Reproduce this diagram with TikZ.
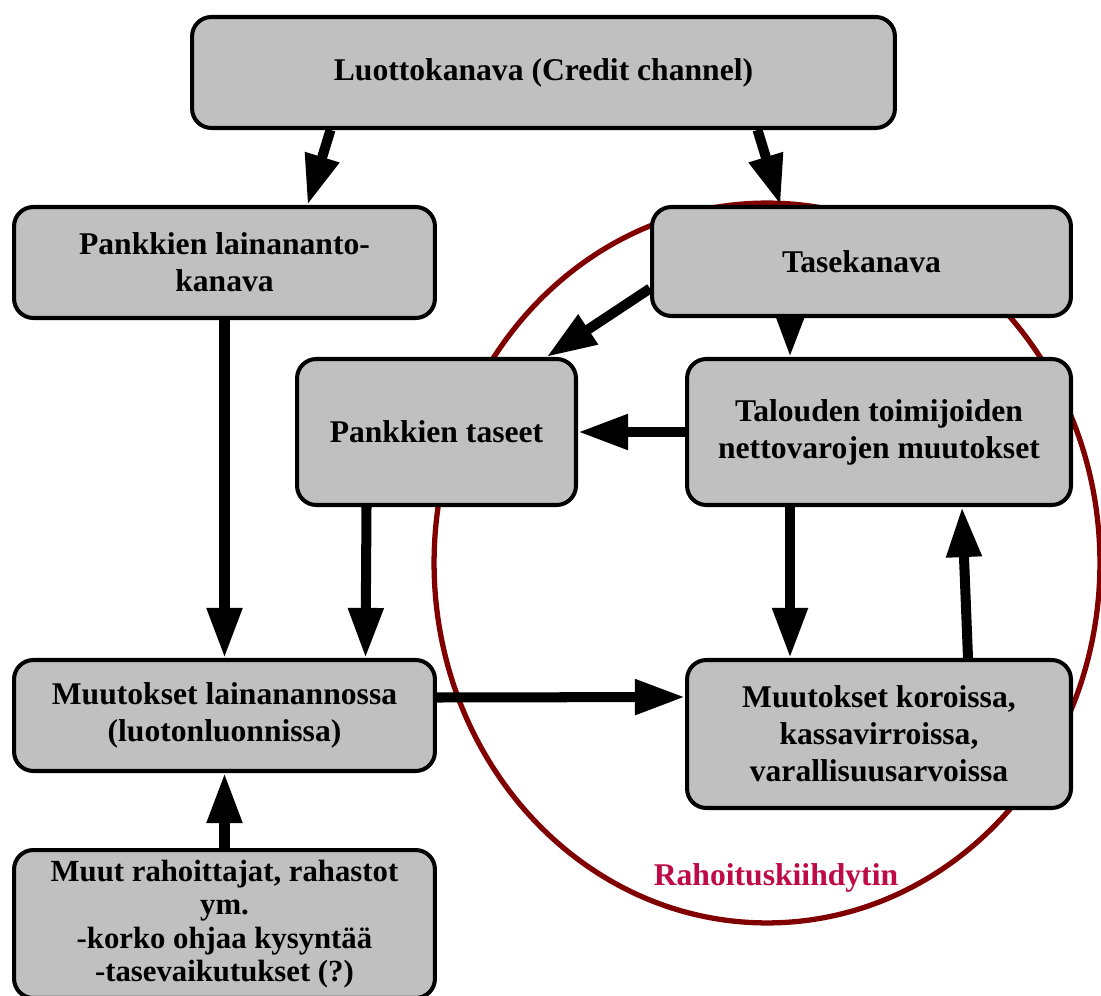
\documentclass[tikz,border=0pt]{standalone}
\usepackage{fontspec}
\setmainfont{Liberation Serif}
\usetikzlibrary{arrows.meta, calc}
\pgfdeclarelayer{background}
\pgfsetlayers{background,main}
\definecolor{boxgray}{RGB}{192,192,192}
\definecolor{loopred}{RGB}{128,0,0}
\definecolor{labelred}{RGB}{190,10,70}

\begin{document}
\begin{tikzpicture}[x=0.02cm, y=-0.02cm,
        box/.style={draw, rectangle, rounded corners=11pt, line width=2.3pt, fill=boxgray, align=center, font=\fontsize{18}{21}\selectfont\bfseries},
        flow/.style={line width=5.7pt, -{Triangle[length=28.5pt, width=19pt]}}]
        \useasboundingbox (0,0) rectangle (1101,996);
        \clip (0,0) rectangle (1101,996);

        \node[box, minimum width=14.06cm, minimum height=2.22cm] (luotto) at (543.5,72.5) {Luottokanava (Credit channel)};
        \node[box, minimum width=8.42cm, minimum height=2.22cm] (laina) at (224.5,262.5) {Pankkien lainananto-\\kanava};
        \node[box, minimum width=8.38cm, minimum height=2.18cm] (tase) at (861.5,261.5) {Tasekanava};
        \node[box, minimum width=5.58cm, minimum height=2.92cm] (ptaseet) at (436.5,432) {Pankkien taseet};
        \node[box, minimum width=7.68cm, minimum height=2.92cm] (netto) at (879,432) {Talouden toimijoiden\\nettovarojen muutokset};
        \node[box, minimum width=8.42cm, minimum height=2.22cm] (lainanto) at (224.5,715.5) {Muutokset lainanannossa\\(luotonluonnissa)};
        \node[box, minimum width=7.68cm, minimum height=2.96cm] (korot) at (879,734) {Muutokset koroissa,\\kassavirroissa,\\varallisuusarvoissa};
        \node[box, minimum width=8.42cm, minimum height=2.96cm, font=\fontsize{17.5}{19}\selectfont\bfseries] (muut) at (224.5,924) {Muut rahoittajat, rahastot\\ym.\\-korko ohjaa kysyntää\\-tasevaikutukset (?)};
        \node[font=\fontsize{18}{20}\selectfont\bfseries, text=labelred] (kiihdytin) at (776,878) {Rahoituskiihdytin};

        \begin{pgfonlayer}{background}
        \draw[loopred, line width=3pt] (767,563) ellipse [x radius=6.66cm, y radius=7.2cm];
        \draw[flow] ($(luotto.south)+(-213,0)$) -- ($(laina.north)+(83,0)$);
        \draw[flow] ($(luotto.south)+(214,0)$) -- ($(tase.north)+(-81,0)$);
        \draw[flow] ($(tase.west)+(0,27)$) -- ($(ptaseet.north)+(110,0)$);
        \draw[flow] ($(tase.center)+(-71,0)$) -- ($(netto.north)+(-89,0)$);
        \draw[flow] (netto.west) -- (ptaseet.east);
        \draw[flow] (laina.south) -- (lainanto.north);
        \draw[flow] ($(ptaseet.south)+(-70,0)$) -- ($(lainanto.north)+(141,0)$);
        \draw[flow] ($(netto.south)+(-89,0)$) -- ($(korot.north)+(-89,0)$);
        \draw[flow] ($(korot.north)+(89,0)$) -- ($(netto.south)+(83,0)$);
        \draw[flow] ($(lainanto.east)+(0,-18)$) -- ($(korot.west)+(0,-37)$);
        \draw[flow] (muut.north) -- (lainanto.south);
        \end{pgfonlayer}
    \end{tikzpicture}
\end{document}
